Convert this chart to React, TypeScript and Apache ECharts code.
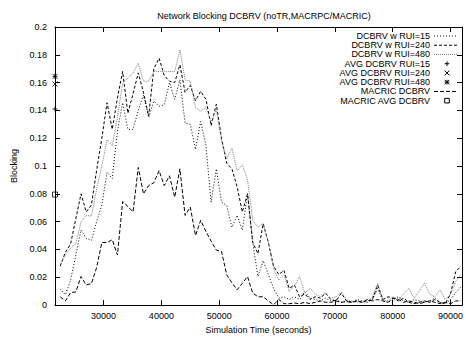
import React, { useEffect, useRef } from "react";
import * as echarts from "echarts";

const times = [
  22500, 23400, 24300, 25200, 26100, 27000, 27900, 28800, 29700, 30600,
  31500, 32400, 33300, 34200, 35100, 36000, 36900, 37800, 38700, 39600,
  40500, 41400, 42300, 43200, 44100, 45000, 45900, 46800, 47700, 48600,
  49500, 50400, 51300, 52200, 53100, 54000, 54900, 55800, 56700, 57600,
  58500, 59400, 60300, 61200, 62100, 63000, 63900, 64800, 65700, 66600,
  67500, 68400, 69300, 70200, 71100, 72000, 72900, 73800, 74700, 75600,
  76500, 77400, 78300, 79200, 80100, 81000, 81900, 82800, 83700, 84600,
  85500, 86400, 87300, 88200, 89100, 90000, 90900, 91800,
];

const rui15 = [
  0.0117, 0.0074, 0.018, 0.036, 0.054, 0.048, 0.0465, 0.06, 0.072, 0.0955,
  0.091, 0.125, 0.1455, 0.1264, 0.1264, 0.14, 0.151, 0.135, 0.1467, 0.143,
  0.144, 0.16, 0.148, 0.162, 0.131, 0.13, 0.112, 0.132, 0.115, 0.074,
  0.098, 0.074, 0.0717, 0.056, 0.0645, 0.054, 0.08, 0.045, 0.0205, 0.032,
  0.022, 0.012, 0.005, 0.006, 0.004, 0.006, 0.004, 0.0098, 0.005, 0.004,
  0.003, 0.005, 0.003, 0.004, 0.002, 0.003, 0.002, 0.004, 0.003, 0.002,
  0.004, 0.012, 0.003, 0.002, 0.004, 0.006, 0.003, 0.002, 0.004, 0.003,
  0.002, 0.003, 0.005, 0.002, 0.001, 0.004, 0.009, 0.013,
];

const rui240 = [
  0.028, 0.038, 0.044, 0.062, 0.08, 0.067, 0.072, 0.097, 0.12, 0.1455,
  0.1264, 0.149, 0.168, 0.138, 0.152, 0.167, 0.153, 0.136, 0.17, 0.1776,
  0.165, 0.161, 0.16, 0.1728, 0.153, 0.158, 0.147, 0.1538, 0.148, 0.129,
  0.1445, 0.12, 0.102, 0.098, 0.085, 0.067, 0.08, 0.045, 0.037, 0.0586,
  0.045, 0.028, 0.022, 0.025, 0.012, 0.0145, 0.006, 0.008, 0.004, 0.006,
  0.005, 0.0086, 0.004, 0.003, 0.0086, 0.003, 0.002, 0.003, 0.002, 0.003,
  0.004, 0.0145, 0.004, 0.006, 0.005, 0.003, 0.005, 0.002, 0.001, 0.002,
  0.003, 0.002, 0.004, 0.002, 0.001, 0.008, 0.024, 0.028,
];

const rui480 = [
  0.03, 0.036, 0.041, 0.044, 0.06, 0.0645, 0.064, 0.0836, 0.1, 0.119,
  0.1145, 0.135, 0.16, 0.163, 0.167, 0.174, 0.161, 0.161, 0.168, 0.168,
  0.168, 0.168, 0.168, 0.1836, 0.162, 0.161, 0.142, 0.1395, 0.142, 0.132,
  0.1407, 0.118, 0.105, 0.113, 0.0967, 0.101, 0.09, 0.061, 0.056, 0.0586,
  0.045, 0.0264, 0.018, 0.022, 0.0098, 0.014, 0.0205, 0.0086, 0.012, 0.008,
  0.006, 0.0086, 0.005, 0.006, 0.0098, 0.004, 0.003, 0.002, 0.003, 0.002,
  0.006, 0.0157, 0.004, 0.003, 0.006, 0.004, 0.008, 0.012, 0.005, 0.01,
  0.0157, 0.008, 0.006, 0.011, 0.004, 0.008, 0.017, 0.022,
];

const macric = [
  0.006, 0.003, 0.009, 0.0095, 0.0205, 0.0145, 0.0155, 0.027, 0.045, 0.045,
  0.047, 0.036, 0.0745, 0.071, 0.067, 0.099, 0.08, 0.086, 0.088, 0.0967,
  0.086, 0.093, 0.0776, 0.098, 0.0645, 0.0705, 0.05, 0.061, 0.053, 0.046,
  0.0395, 0.0386, 0.0217, 0.016, 0.011, 0.0157, 0.0205, 0.0086, 0.006, 0.006,
  0.003, 0.0003, 0.004, 0.001, 0.001, 0.0015, 0.001, 0.002, 0.001, 0.002,
  0.003, 0.002, 0.002, 0.003, 0.002, 0.0025, 0.002, 0.003, 0.002, 0.004,
  0.003, 0.004, 0.003, 0.002, 0.005, 0.004, 0.002, 0.003, 0.002, 0.001,
  0.002, 0.003, 0.002, 0.001, 0.002, 0.001, 0.003, 0.003,
];

const avgTime = 21600;
const avgRui15 = 0.141;
const avgRui240 = 0.159;
const avgRui480 = 0.1645;
const avgMacric = 0.0795;

const xMin = 21600;
const xMax = 92000;
const xTicks = [30000, 40000, 50000, 60000, 70000, 80000, 90000];

const legendLabels = [
  "DCBRV w RUI=15",
  "DCBRV w RUI=240",
  "DCBRV w RUI=480",
  "AVG DCBRV RUI=15",
  "AVG DCBRV RUI=240",
  "AVG DCBRV RUI=480",
  "MACRIC DCBRV",
  "MACRIC AVG DCBRV",
];

const FONT = "'Liberation Sans', Arial, Helvetica, sans-serif";
const BLACK = "#000000";
const GRAY = "#808080";

const PLUS = "path://M0,3H6M3,0V6";
const CROSS = "path://M0,0L6,6M0,6L6,0";
const STAR = "path://M0,3H6M3,0V6M0,0L6,6M0,6L6,0";

export default function App() {
  const ref = useRef<HTMLDivElement>(null);

  useEffect(() => {
    const chart = echarts.init(ref.current!, null, { renderer: "svg" });
    const pair = (ys: number[]) => times.map((t, i) => [t, ys[i]]);

    const lineSeries = (name: string, ys: number[], color: string, dash: number[]) => ({
      type: "line",
      name,
      data: pair(ys),
      symbol: "none",
      silent: true,
      lineStyle: { color, width: 1, type: dash },
      itemStyle: { color },
    });

    const markSeries = (name: string, value: number, symbol: string) => ({
      type: "scatter",
      name,
      data: [[avgTime, value]],
      symbol,
      symbolSize: 5,
      clip: false,
      silent: true,
      itemStyle: { color: "transparent", borderColor: BLACK, borderWidth: 1 },
    });

    // legend drawn gnuplot-style: right-aligned text, sample on the right
    const rowY = (i: number) => 36 + 9.24 * i;
    const textX = 430;
    const sampleX0 = 434;
    const sampleX1 = 457;
    const markX = 447;
    const h = 2.3;
    const legendSamples: any[] = [];
    const lineStyles: Record<number, { color: string; dash: number[] }> = {
      0: { color: BLACK, dash: [1, 2] },
      1: { color: BLACK, dash: [3, 2] },
      2: { color: GRAY, dash: [1, 1] },
      6: { color: BLACK, dash: [4, 2] },
    };
    legendLabels.forEach((label, i) => {
      const y = rowY(i);
      legendSamples.push({
        type: "text",
        x: textX,
        y,
        style: {
          text: label,
          align: "right",
          verticalAlign: "middle",
          fill: BLACK,
          font: `9px ${FONT}`,
        },
      });
      if (lineStyles[i]) {
        legendSamples.push({
          type: "line",
          shape: { x1: sampleX0, y1: y, x2: sampleX1, y2: y },
          style: { stroke: lineStyles[i].color, lineWidth: 1, lineDash: lineStyles[i].dash },
        });
      } else {
        const segs: number[][] = [];
        if (i === 3 || i === 5) {
          segs.push([markX - h, y, markX + h, y]);
          segs.push([markX, y - h, markX, y + h]);
        }
        if (i === 4 || i === 5) {
          segs.push([markX - h, y - h, markX + h, y + h]);
          segs.push([markX - h, y + h, markX + h, y - h]);
        }
        segs.forEach((s) =>
          legendSamples.push({
            type: "line",
            shape: { x1: s[0], y1: s[1], x2: s[2], y2: s[3] },
            style: { stroke: BLACK, lineWidth: 1 },
          })
        );
        if (i === 7) {
          legendSamples.push({
            type: "rect",
            shape: { x: markX - h, y: y - h, width: 2 * h, height: 2 * h },
            style: { stroke: BLACK, fill: "transparent", lineWidth: 1 },
          });
        }
      }
    });

    const axisCommon = {
      axisLine: { show: true, onZero: false, lineStyle: { color: BLACK, width: 1 } },
      splitLine: { show: false },
    };

    chart.setOption({
      animation: false,
      backgroundColor: "#ffffff",
      title: {
        text: "Network Blocking DCBRV (noTR,MACRPC/MACRIC)",
        left: 259,
        top: 6,
        textAlign: "center",
        textStyle: { fontSize: 9, fontWeight: "normal", color: BLACK, fontFamily: FONT },
      },
      grid: { left: 55, right: 2, top: 27, bottom: 32, containLabel: false },
      xAxis: [
        {
          type: "value",
          min: xMin,
          max: xMax,
          position: "bottom",
          ...axisCommon,
          axisTick: { show: true, inside: true, length: 5, customValues: xTicks, lineStyle: { color: BLACK } },
          axisLabel: {
            show: true,
            customValues: xTicks,
            formatter: (v: number) => String(v),
            color: BLACK,
            fontSize: 9,
            fontFamily: FONT,
            margin: 6,
          },
          name: "Simulation Time (seconds)",
          nameLocation: "middle",
          nameGap: 17,
          nameTextStyle: { color: BLACK, fontSize: 9, fontFamily: FONT },
        },
        {
          type: "value",
          min: xMin,
          max: xMax,
          position: "top",
          ...axisCommon,
          axisTick: { show: true, inside: true, length: 5, customValues: xTicks, lineStyle: { color: BLACK } },
          axisLabel: { show: false },
        },
      ],
      yAxis: [
        {
          type: "value",
          min: 0,
          max: 0.2,
          interval: 0.02,
          position: "left",
          ...axisCommon,
          axisTick: { show: true, inside: true, length: 5, lineStyle: { color: BLACK } },
          axisLabel: { show: true, color: BLACK, fontSize: 9, fontFamily: FONT, margin: 8 },
          name: "Blocking",
          nameLocation: "middle",
          nameGap: 31,
          nameTextStyle: { color: BLACK, fontSize: 9, fontFamily: FONT },
        },
        {
          type: "value",
          min: 0,
          max: 0.2,
          interval: 0.02,
          position: "right",
          ...axisCommon,
          axisTick: { show: true, inside: true, length: 5, lineStyle: { color: BLACK } },
          axisLabel: { show: false },
        },
      ],
      series: [
        lineSeries("DCBRV w RUI=15", rui15, BLACK, [1, 2]),
        lineSeries("DCBRV w RUI=240", rui240, BLACK, [3, 2]),
        lineSeries("DCBRV w RUI=480", rui480, GRAY, [1, 1]),
        markSeries("AVG DCBRV RUI=15", avgRui15, PLUS),
        markSeries("AVG DCBRV RUI=240", avgRui240, CROSS),
        markSeries("AVG DCBRV RUI=480", avgRui480, STAR),
        lineSeries("MACRIC DCBRV", macric, BLACK, [4, 2]),
        markSeries("MACRIC AVG DCBRV", avgMacric, "rect"),
      ],
      graphic: legendSamples,
    });

    return () => chart.dispose();
  }, []);

  return (
    <div
      ref={ref}
      style={{ position: "fixed", left: 0, top: 0, width: 466, height: 339, background: "#fff" }}
    />
  );
}
